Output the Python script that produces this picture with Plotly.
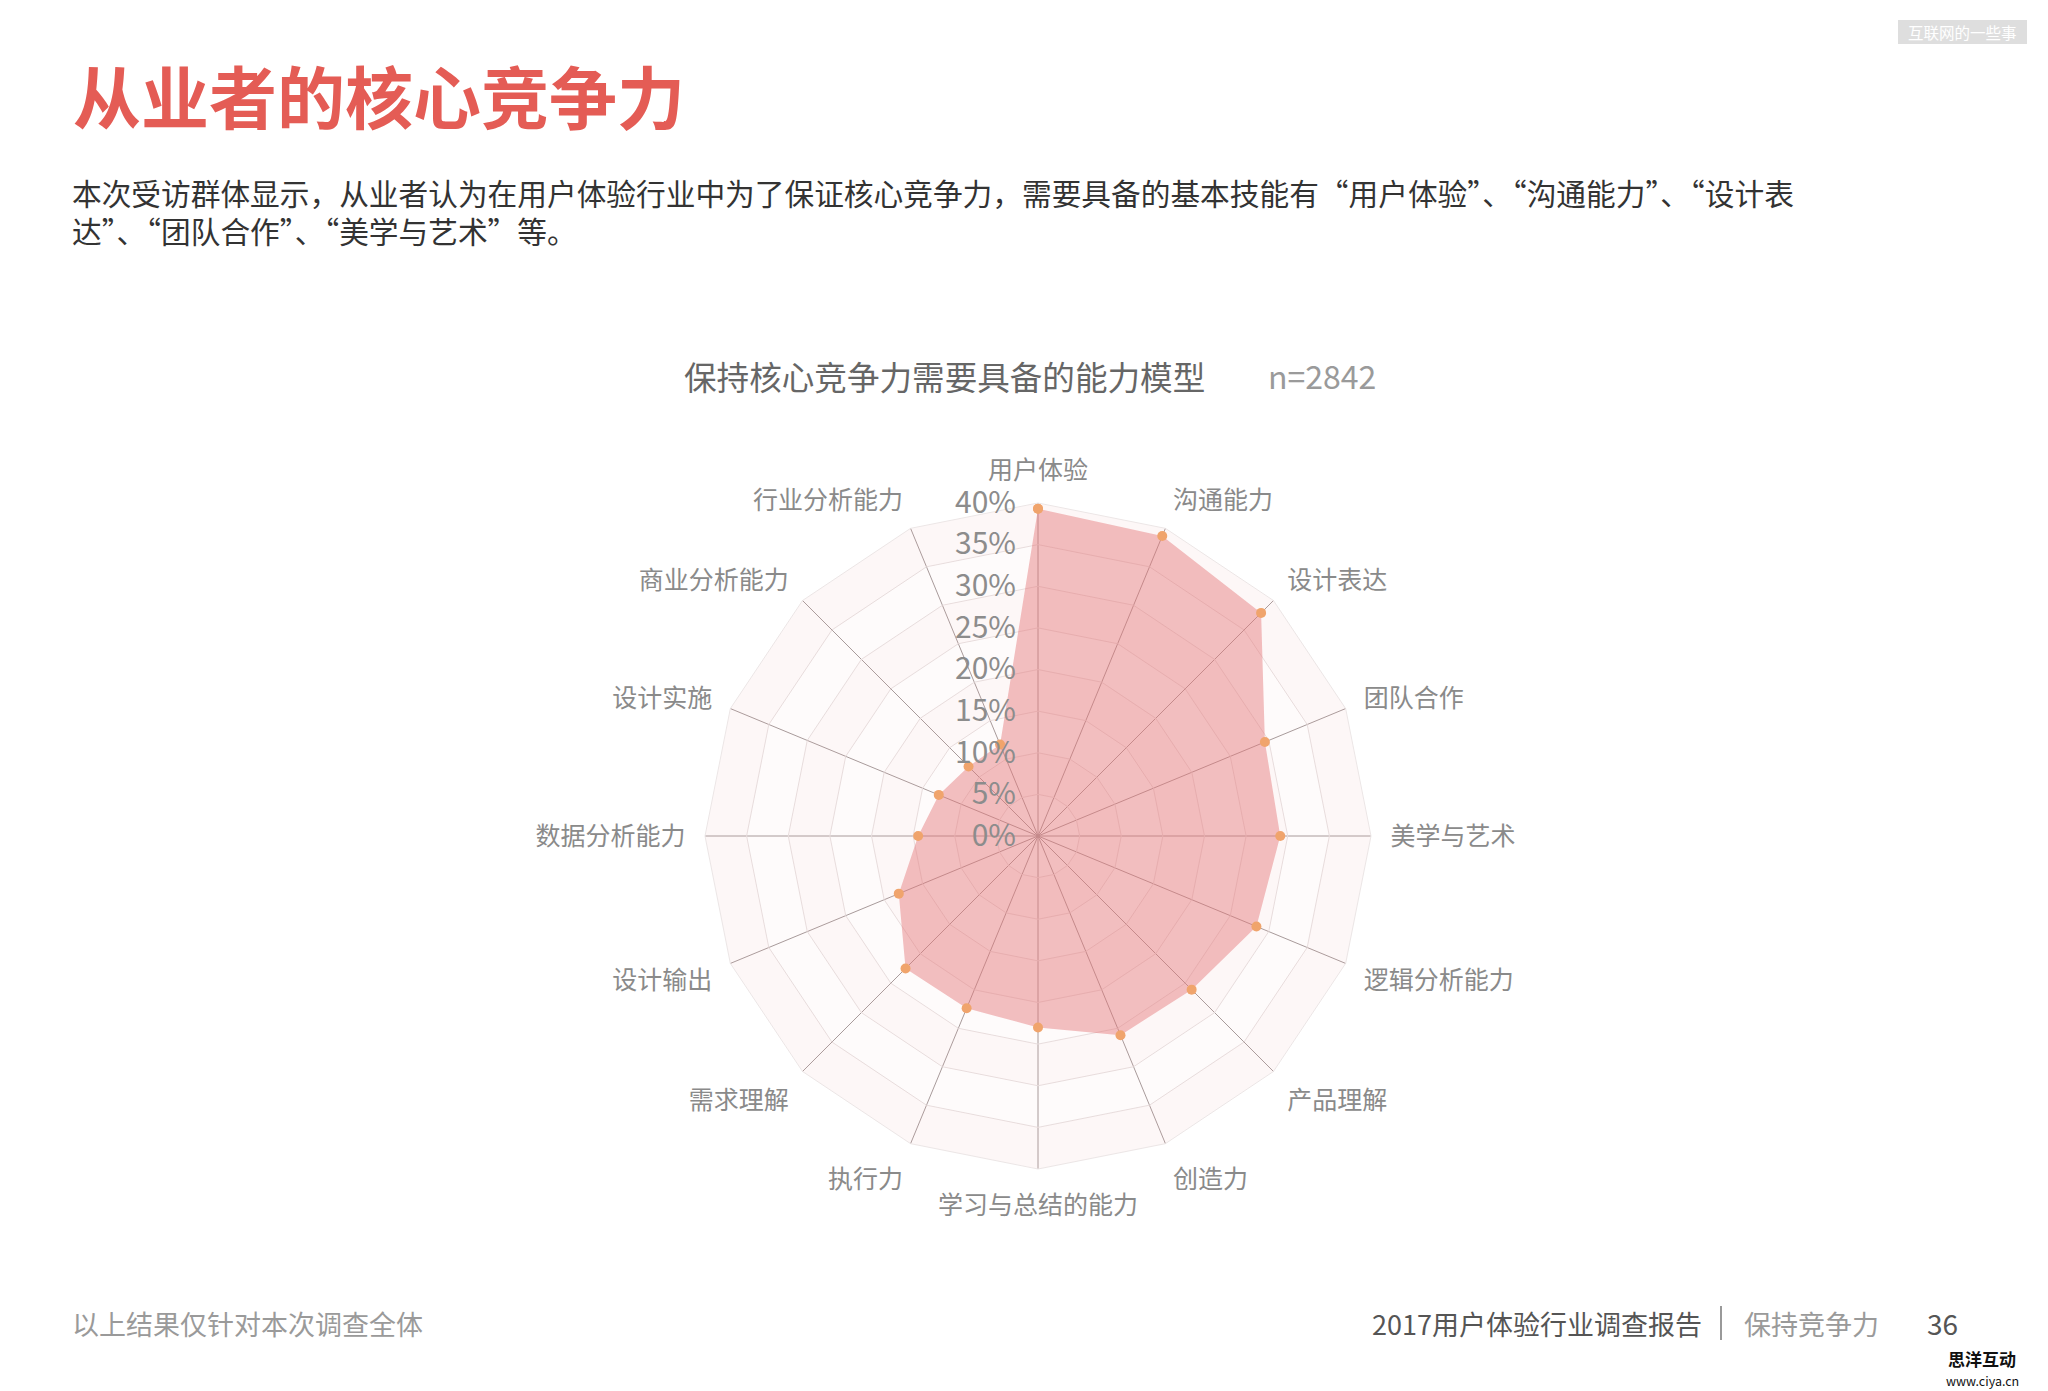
import plotly.graph_objects as go

# body margin of the page (8px) is compensated by shrinking the figure
OFF = 8
W, H = 2048 - OFF, 1391 - OFF

categories = ["用户体验", "沟通能力", "设计表达", "团队合作", "美学与艺术", "逻辑分析能力",
              "产品理解", "创造力", "学习与总结的能力", "执行力", "需求理解", "设计输出",
              "数据分析能力", "设计实施", "商业分析能力", "行业分析能力"]
values = [39.3, 39.0, 37.9, 29.5, 29.1, 28.4, 26.1, 25.9, 23.0, 22.4, 22.5, 18.1,
          14.4, 12.9, 11.8, 11.9]
radial_ticks = [0, 5, 10, 15, 20, 25, 30, 35, 40]
radial_labels = ["0%", "5%", "10%", "15%", "20%", "25%", "30%", "35%", "40%"]

title_text = "从业者的核心竞争力"
subtitle_line1 = "本次受访群体显示，从业者认为在用户体验行业中为了保证核心竞争力，需要具备的基本技能有“用户体验”、“沟通能力”、“设计表"
subtitle_line2 = "达”、“团队合作”、“美学与艺术”等。"
chart_title = "保持核心竞争力需要具备的能力模型"
sample_text = "n=2842"
footer_left = "以上结果仅针对本次调查全体"
footer_report = "2017用户体验行业调查报告"
footer_section = "保持竞争力"
page_no = "36"

FONT = "Noto Sans CJK SC, Noto Sans, sans-serif"

fig = go.Figure()

# split-area bands (alternating light tints), drawn as ring polygons
band_colors = ["rgba(236,180,180,0.05)", "rgba(236,180,180,0.10)"]
for k in range(len(radial_ticks) - 1):
    r_in, r_out = radial_ticks[k], radial_ticks[k + 1]
    th = categories + [categories[0]] + [categories[0]] + categories[::-1]
    rr = [r_out] * (len(categories) + 1) + [r_in] * (len(categories) + 1)
    fig.add_trace(go.Scatterpolar(
        r=rr, theta=th, mode="lines", fill="toself",
        fillcolor=band_colors[k % 2], line=dict(width=0, color="rgba(0,0,0,0)"),
        hoverinfo="skip", showlegend=False))

# main series
fig.add_trace(go.Scatterpolar(
    r=values + [values[0]], theta=categories + [categories[0]],
    mode="lines+markers", fill="toself",
    fillcolor="rgba(228,118,120,0.46)",
    line=dict(width=0, color="rgba(0,0,0,0)"),
    marker=dict(size=10, color="#f0a46c"),
    showlegend=False))


def px(x):
    return (x - OFF) / W


def py(y):
    return 1 - (y - OFF) / H


CX, CY, R = 1038, 836, 333
fig.update_layout(
    width=W, height=H,
    margin=dict(l=0, r=0, t=0, b=0),
    paper_bgcolor="white", plot_bgcolor="white",
    font=dict(family=FONT),
    polar=dict(
        domain=dict(x=[px(CX - R), px(CX + R)], y=[py(CY + R), py(CY - R)]),
        bgcolor="white",
        gridshape="linear",
        radialaxis=dict(
            range=[0, 40], tickvals=radial_ticks, ticktext=radial_labels,
            angle=90, side="counterclockwise", tickangle=90,
            showline=False, ticks="outside", ticklen=11, tickcolor="rgba(0,0,0,0)",
            gridcolor="#e9e2e2", gridwidth=1,
            tickfont=dict(size=30, color="#8c8c8c", family=FONT),
        ),
        angularaxis=dict(
            direction="clockwise", rotation=90,
            showline=True, linecolor="#ece6e6", linewidth=1,
            gridcolor="#a59a9a", gridwidth=1,
            ticks="outside", ticklen=14, tickcolor="rgba(0,0,0,0)",
            tickfont=dict(size=25, color="#8a8a8a", family=FONT),
        ),
    ),
)

ann = []
ann.append(dict(x=px(71), y=py(95), text="<b>" + title_text + "</b>", xanchor="left", yanchor="middle",
                font=dict(size=68, color="#e45c55", family=FONT)))
ann.append(dict(x=px(70), y=py(192), text=subtitle_line1, xanchor="left", yanchor="middle", align="left",
                font=dict(size=29.7, color="#333333", family=FONT)))
ann.append(dict(x=px(70), y=py(230), text=subtitle_line2, xanchor="left", yanchor="middle", align="left",
                font=dict(size=29.7, color="#333333", family=FONT)))
ann.append(dict(x=px(682), y=py(375), text=chart_title, xanchor="left", yanchor="middle",
                font=dict(size=32.6, color="#666666", family=FONT)))
ann.append(dict(x=px(1266), y=py(375), text=sample_text, xanchor="left", yanchor="middle",
                font=dict(size=32, color="#9a9a9a", family=FONT)))
ann.append(dict(x=px(70), y=py(1323), text=footer_left, xanchor="left", yanchor="middle",
                font=dict(size=27, color="#9a9a9a", family=FONT)))
ann.append(dict(x=px(1370), y=py(1323), text=footer_report, xanchor="left", yanchor="middle",
                font=dict(size=27, color="#555555", family=FONT)))
ann.append(dict(x=px(1742), y=py(1323), text=footer_section, xanchor="left", yanchor="middle",
                font=dict(size=27, color="#9a9a9a", family=FONT)))
ann.append(dict(x=px(1925), y=py(1323), text=page_no, xanchor="left", yanchor="middle",
                font=dict(size=28, color="#555555", family=FONT)))
ann.append(dict(x=px(1982), y=py(1358), text="<b>思洋互动</b>", xanchor="center", yanchor="middle",
                font=dict(size=17, color="#111111", family=FONT)))
ann.append(dict(x=px(1982), y=py(1380), text="www.ciya.cn", xanchor="center", yanchor="middle",
                font=dict(size=12.5, color="#111111", family=FONT)))
ann.append(dict(x=px(1962), y=py(32), text="互联网的一些事", xanchor="center", yanchor="middle",
                font=dict(size=15.5, color="#ffffff", family=FONT)))
for a in ann:
    a.update(xref="paper", yref="paper", showarrow=False)
fig.update_layout(annotations=ann)

fig.add_shape(type="rect", xref="paper", yref="paper",
              x0=px(1898), x1=px(2027), y0=py(44), y1=py(20),
              fillcolor="#dedede", line=dict(width=0), layer="below")
fig.add_shape(type="line", xref="paper", yref="paper",
              x0=px(1721), x1=px(1721), y0=py(1306), y1=py(1340),
              line=dict(color="#777777", width=1.5))

fig.write_html("out.html")
